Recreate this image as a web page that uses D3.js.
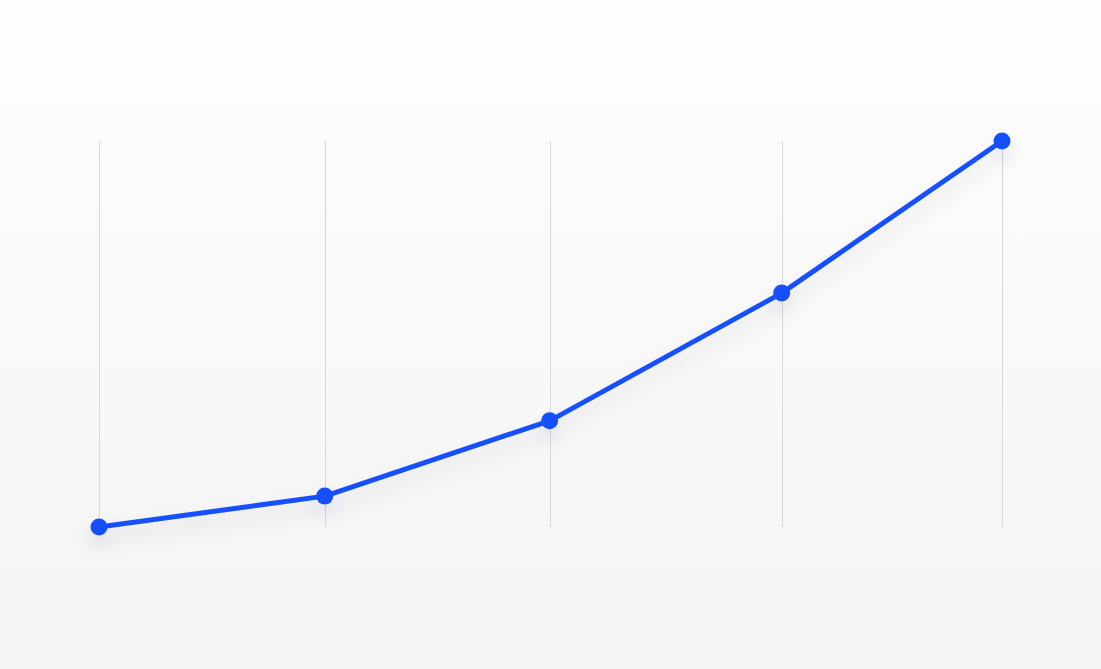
<!DOCTYPE html>
<html lang="en">
	<head>
		<meta charset="utf-8">
		<title>Line chart</title>
		<script type="text/javascript" src="https://cdn.jsdelivr.net/npm/d3@7"></script>
		<style>
			html, body {
				margin: 0;
				padding: 0;
				overflow: hidden;
			}
			.grid line {
				stroke: #d8d8db;
				stroke-width: 1;
			}
		</style>
	</head>
	<body>
		<div id="vis"></div>

		<script type="text/javascript">
			// values
			var xValues = [0, 2.5, 4.99, 7.56, 10];
			var yValues = [0, 8, 27.5, 60.6, 100];

			var width = 1101,
				height = 669;

			var svg = d3.select("#vis").append("svg")
				.attr("width", width)
				.attr("height", height);

			var defs = svg.append("defs");

			var bg = defs.append("linearGradient")
				.attr("id", "bg")
				.attr("x1", 0).attr("y1", 0)
				.attr("x2", 0).attr("y2", 1);
			bg.append("stop").attr("offset", "0%").attr("stop-color", "#fefefe");
			bg.append("stop").attr("offset", "100%").attr("stop-color", "#f4f4f5");

			var shadow = defs.append("filter")
				.attr("id", "shadow")
				.attr("x", "-10%").attr("y", "-20%")
				.attr("width", "120%").attr("height", "150%");
			shadow.append("feDropShadow")
				.attr("dx", 0)
				.attr("dy", 10)
				.attr("stdDeviation", 9)
				.attr("flood-color", "#1a1a40")
				.attr("flood-opacity", 0.12);

			svg.append("rect")
				.attr("width", width)
				.attr("height", height)
				.attr("fill", "url(#bg)");

			var x = d3.scaleLinear()
				.domain([0, 10])
				.range([99, 1002]);

			var y = d3.scaleLinear()
				.domain([0, 100])
				.range([527, 141]);

			var data = xValues.map(function(d, i) {
				return { x: d, y: yValues[i] };
			});

			// vertical grid lines through each point
			svg.append("g").attr("class", "grid")
				.selectAll("line").data(data).enter().append("line")
				.attr("x1", function(d) { return Math.round(x(d.x)) + 0.5; })
				.attr("x2", function(d) { return Math.round(x(d.x)) + 0.5; })
				.attr("y1", y(100))
				.attr("y2", y(0));

			var line = d3.line()
				.x(function(d) { return x(d.x); })
				.y(function(d) { return y(d.y); });

			var g = svg.append("g").attr("filter", "url(#shadow)");

			g.append("path")
				.datum(data)
				.attr("d", line)
				.attr("fill", "none")
				.attr("stroke", "#1650ff")
				.attr("stroke-width", 5)
				.attr("stroke-linejoin", "round")
				.attr("stroke-linecap", "round");

			g.selectAll("circle").data(data).enter().append("circle")
				.attr("cx", function(d) { return x(d.x); })
				.attr("cy", function(d) { return y(d.y); })
				.attr("r", 8.5)
				.attr("fill", "#1650ff");
		</script>
	</body>
</html>
